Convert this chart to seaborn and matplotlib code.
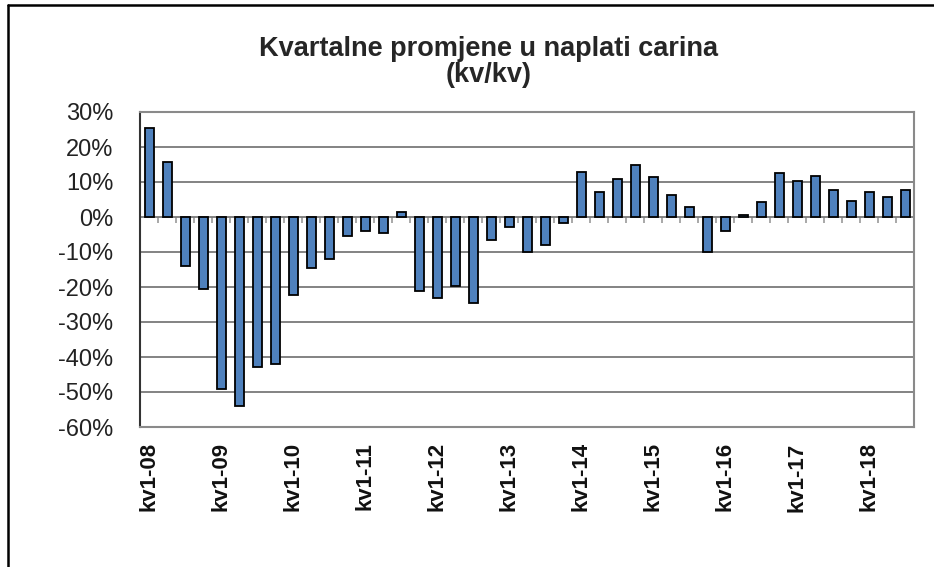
import matplotlib
matplotlib.use("Agg")
import numpy as np
import pandas as pd
import matplotlib.pyplot as plt
from matplotlib.lines import Line2D
import seaborn as sns

# kvartalne promjene (%) kv1-08 .. kv3-18, ocitano s grafa
years = ["08", "09", "10", "11", "12", "13", "14", "15", "16", "17", "18"]
quarters = [f"kv{q}-{y}" for y in years for q in range(1, 5)][:43]
changes = [
    25.3, 15.6, -14.0, -20.6,
    -49.1, -54.0, -42.8, -41.9,
    -22.3, -14.5, -12.0, -5.3,
    -4.0, -4.7, 1.5, -21.1,
    -23.0, -19.7, -24.6, -6.5,
    -2.8, -9.9, -8.1, -1.8,
    12.9, 7.2, 11.0, 14.8,
    11.3, 6.2, 2.9, -10.0,
    -4.0, 0.6, 4.4, 12.6,
    10.3, 11.6, 7.8, 4.7,
    7.2, 5.7, 7.8,
]
y_ticks = list(range(-60, 31, 10))

sns.set_theme(style="white")
plt.rcParams['font.family'] = ['Liberation Sans', 'DejaVu Sans']

df = pd.DataFrame({"kvartal": quarters, "promjena": changes})

fig = plt.figure(figsize=(9.34, 5.67), dpi=100)
ax = fig.add_axes([140 / 934, 1 - 427 / 567, (914 - 140) / 934, (427 - 112) / 567])

sns.barplot(data=df, x="kvartal", y="promjena", color="#4F81BD", saturation=1,
            edgecolor="black", linewidth=1.3, width=0.5, ax=ax)

ax.set_ylim(-60, 30)
ax.set_xlim(-0.5, len(quarters) - 0.5)
ax.set_yticks(y_ticks)
ax.set_yticklabels([f"{v}%" for v in y_ticks], fontsize=17, color="#222222")
ax.set_xticks(range(0, len(quarters), 4))
ax.set_xticklabels(quarters[::4], rotation=90, fontsize=16, fontweight="bold", color="#111111")
ax.tick_params(axis="x", length=0, pad=11)
ax.tick_params(axis="y", length=7, width=1.2, direction="out", color="#333333", pad=12)
ax.set_xlabel("")
ax.set_ylabel("")

ax.yaxis.grid(True, color="#7a7a7a", linewidth=1.3)
ax.set_axisbelow(True)
for side in ["top", "right", "bottom"]:
    ax.spines[side].set_color("#8a8a8a")
    ax.spines[side].set_linewidth(1.5)
ax.spines["left"].set_color("#333333")
ax.spines["left"].set_linewidth(1.5)

# kategorijska os na nuli s kratkim crticama izmedju stupaca
sec = ax.secondary_xaxis(60 / 90)
sec.set_alignment("bottom")
sec.set_xticks(np.arange(-0.5, len(quarters), 1))
sec.tick_params(axis="x", length=4, width=1.2, color="#9a9a9a", labelbottom=False, labeltop=False)
for sp in sec.spines.values():
    sp.set_visible(False)

fig.text(0.523, 1 - 62 / 567, "Kvartalne promjene u naplati carina\n(kv/kv)",
         ha="center", va="center", fontsize=19.5, fontweight="bold", linespacing=1.02)

# okvir slike
fig.add_artist(Line2D([8 / 934, 1], [1 - 5 / 567, 1 - 5 / 567], color="black", linewidth=1.8,
                      transform=fig.transFigure))
fig.add_artist(Line2D([8 / 934, 8 / 934], [0, 1 - 5 / 567], color="black", linewidth=1.8,
                      transform=fig.transFigure))

plt.savefig("out.png", dpi=100)
plt.close()
